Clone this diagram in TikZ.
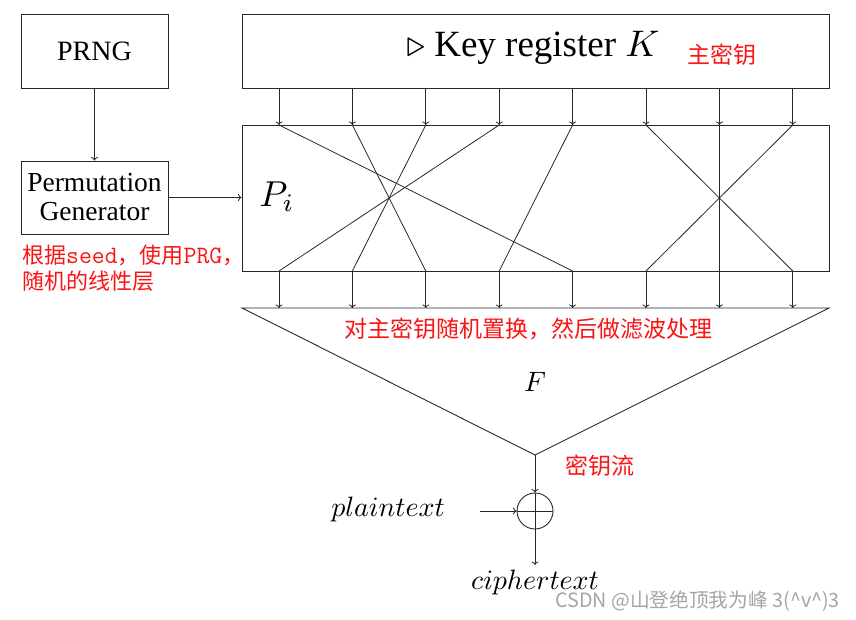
\documentclass[tikz,border=0pt]{standalone}
\usepackage{graphicx}
\usepackage{fontspec}
\setmainfont{Liberation Serif}
\newfontfamily\cjkf{Noto Sans CJK SC}
\usetikzlibrary{arrows.meta}
\definecolor{redtxt}{RGB}{250,20,20}
\definecolor{wmgray}{RGB}{165,165,165}
\definecolor{linegray}{RGB}{40,40,40}
\newcommand{\scaledtxt}[2]{\scalebox{#1}{\fontsize{10}{12}\selectfont #2}}
\tikzset{
  box/.style={draw=linegray, line width=0.9pt, inner sep=0pt},
  conn/.style={draw=linegray, line width=0.8pt},
  arr/.style={conn, -{To[length=3.5pt,width=7pt]}},
  redlab/.style={text=redtxt, font=\cjkf\fontsize{23}{27}\selectfont, inner sep=0pt},
  mathlab/.style={inner sep=0pt},
}
\begin{document}
\begin{tikzpicture}[x=1pt,y=-1pt]
\useasboundingbox (0,0) rectangle (856,620);
\fill[white] (0,0) rectangle (856,620);
% left boxes
\node[box, minimum width=147pt, minimum height=74pt, font=\fontsize{28}{30}\selectfont] (prng) at (94.5,51) {PRNG};
\node[box, minimum width=147pt, minimum height=73pt, align=center, font=\fontsize{27.5}{29}\selectfont] (perm) at (94.5,197.5) {Permutation\\Generator};
\draw[arr] (prng.south) -- (perm.north);
% key register
\node[box, minimum width=587pt, minimum height=74pt] (key) at (535.5,51) {};
\node[inner sep=0pt] (keytxt) at (533,48) {\scaledtxt{3.7}{$\triangleright$ Key register $K$}};
\node[redlab] (zhumiyao) at (722,55) {主密钥};
% permutation box
\node[box, minimum width=587pt, minimum height=146pt] (pbox) at (535.5,198) {};
\node[inner sep=0pt] (pi) at (277,197) {\scaledtxt{3.6}{$P_i$}};
\draw[arr] (perm.east) -- (pbox.west |- perm.east);
% red note on left
\node[text=redtxt, inner sep=0pt, anchor=north west, align=left, font=\cjkf\fontsize{22}{26}\selectfont] (note) at (22,245)
  {根据{\ttfamily\fontsize{25}{26}\selectfont seed}，使用{\ttfamily\fontsize{25}{26}\selectfont PRG}，\\随机的线性层};
% columns
\foreach \i/\xx in {0/279,1/352.4,2/425.8,3/499.2,4/572.6,5/646,6/719.4,7/792.8}{
  \coordinate (K\i) at (\xx,88);
  \coordinate (T\i) at (\xx,125);
  \coordinate (B\i) at (\xx,271);
  \coordinate (F\i) at (\xx,308);
}
\foreach \i in {0,...,7}{
  \draw[arr] (K\i) -- (T\i);
  \draw[arr] (B\i) -- (F\i);
}
% permutation wires
\draw[conn] (T0) -- (B4);
\draw[conn] (T1) -- (B2);
\draw[conn] (T2) -- (B1);
\draw[conn] (T3) -- (B0);
\draw[conn] (T4) -- (B3);
\draw[conn] (T5) -- (B7);
\draw[conn] (T6) -- (B6);
\draw[conn] (T7) -- (B5);
% filter triangle
\coordinate (triL) at (242,308);
\coordinate (triR) at (829,308);
\coordinate (apex) at (535,455);
\draw[conn, line width=0.9pt] (triL) -- (triR) -- (apex) -- cycle;
\node[redlab] (filt) at (528,329) {对主密钥随机置换，然后做滤波处理};
\node[mathlab] (F) at (535,382) {\scaledtxt{2.8}{$F$}};
\node[redlab] (stream) at (600,466) {密钥流};
% xor
\node[draw=linegray, line width=0.9pt, circle, minimum size=36pt, inner sep=0pt] (xor) at (535,511) {};
\draw[conn] (xor.west) -- (xor.east);
\draw[conn] (xor.north) -- (xor.south);
\draw[arr] (apex) -- (xor.north);
\node[mathlab] (plain) at (388,509) {\scaledtxt{2.8}{$plaintext$}};
\coordinate (pin) at (480,511);
\draw[arr] (pin) -- (xor.west);
\coordinate (cout) at (535,565);
\draw[arr] (xor.south) -- (cout);
\node[mathlab] (cipher) at (535,582) {\scaledtxt{2.8}{$ciphertext$}};
% watermark
\node[text=wmgray, inner sep=0pt, anchor=east, font=\cjkf\fontsize{19.7}{21}\selectfont] (wm) at (840,601) {CSDN @山登绝顶我为峰 3(\^{}v\^{})3};
\end{tikzpicture}
\end{document}
